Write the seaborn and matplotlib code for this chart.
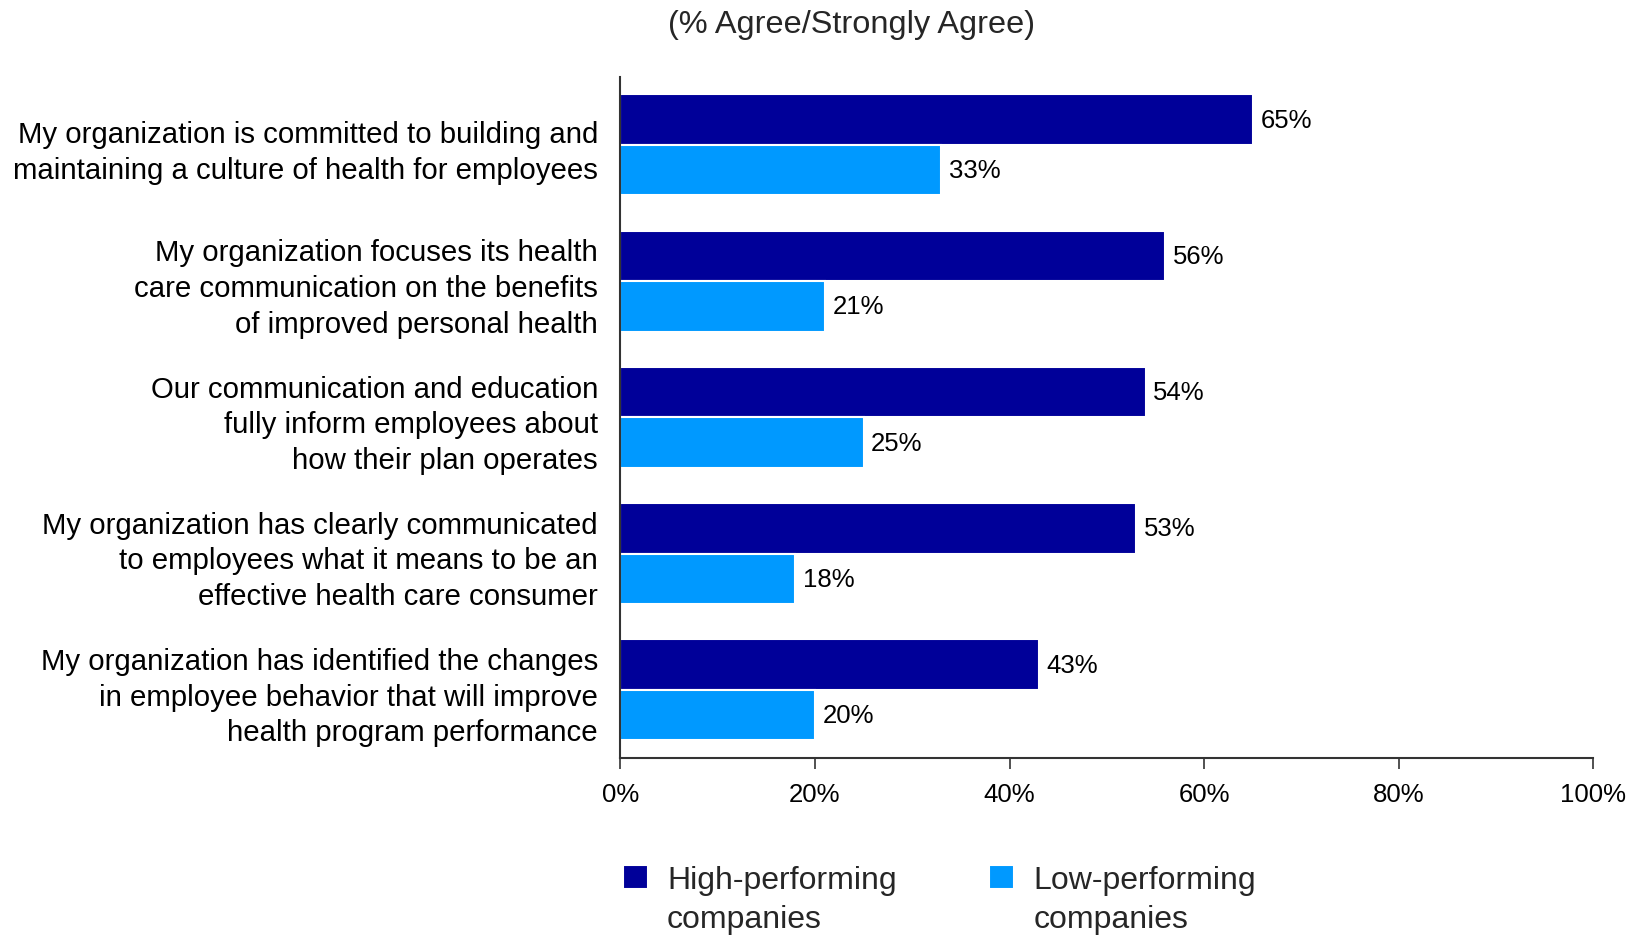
import matplotlib
matplotlib.use("Agg")
import matplotlib.pyplot as plt
import seaborn as sns
import pandas as pd
from matplotlib.ticker import FuncFormatter

categories = [
    "My organization is committed to building and\nmaintaining a culture of health for employees",
    "My organization focuses its health\ncare communication on the benefits\nof improved personal health",
    "Our communication and education\nfully inform employees about\nhow their plan operates",
    "My organization has clearly communicated\nto employees what it means to be an\neffective health care consumer",
    "My organization has identified the changes\nin employee behavior that will improve\nhealth program performance",
]
series_names = ["High-performing\ncompanies", "Low-performing\ncompanies"]
high_values = [65, 56, 54, 53, 43]
low_values = [33, 21, 25, 18, 20]
x_ticks = [0, 20, 40, 60, 80, 100]
title = "(% Agree/Strongly Agree)"

colors = ["#000099", "#0099FF"]

df = pd.DataFrame({
    "category": categories * 2,
    "value": high_values + low_values,
    "series": [series_names[0]] * len(categories) + [series_names[1]] * len(categories),
})

sns.set_theme(style="white")
plt.rcParams["font.family"] = ["Liberation Sans", "DejaVu Sans"]

fig = plt.figure(figsize=(16.41, 9.37), dpi=100)
ax = fig.add_axes([0.378, 0.190, 0.593, 0.727])

sns.barplot(data=df, y="category", x="value", hue="series", orient="h",
            palette=colors, width=0.74, ax=ax, edgecolor="white", linewidth=1.5,
            saturation=1, errorbar=None)

ax.set_xlim(0, 100)
ax.set_ylim(4.5, -0.5)
ax.set_xticks(x_ticks)
ax.xaxis.set_major_formatter(FuncFormatter(lambda v, p: f"{int(v)}%"))
ax.set_xlabel("")
ax.set_ylabel("")
for s in ["top", "right"]:
    ax.spines[s].set_visible(False)
for s in ["left", "bottom"]:
    ax.spines[s].set_color("#333333")
    ax.spines[s].set_linewidth(1.5)
ax.tick_params(axis="x", bottom=True, length=8, width=1.2, color="#333333",
               labelsize=18.5, pad=9, labelcolor="black")
ax.tick_params(axis="y", left=False, labelsize=21.2, pad=10, labelcolor="black")
for lbl in ax.get_yticklabels():
    lbl.set_horizontalalignment("right")
    lbl.set_linespacing(1.35)

for cont in ax.containers:
    ax.bar_label(cont, labels=[f"{int(v)}%" for v in cont.datavalues],
                 padding=5.5, fontsize=18.5, color="black")

fig.text(0.519, 0.973, title, ha="center", va="center", fontsize=23.4)

sns.move_legend(ax, "upper left", bbox_to_anchor=(0.3796, 0.076),
                bbox_transform=fig.transFigure, ncol=2, frameon=False,
                fontsize=23, title=None, handlelength=0.78, handleheight=0.78,
                columnspacing=2.9, handletextpad=0.6, borderaxespad=0,
                borderpad=0)
leg = ax.get_legend()
for t in leg.get_texts():
    t.set_linespacing(1.39)
for h in leg.legend_handles:
    h.set_y(h.get_y() + 16.5)

fig.savefig("out.png", dpi=100)
